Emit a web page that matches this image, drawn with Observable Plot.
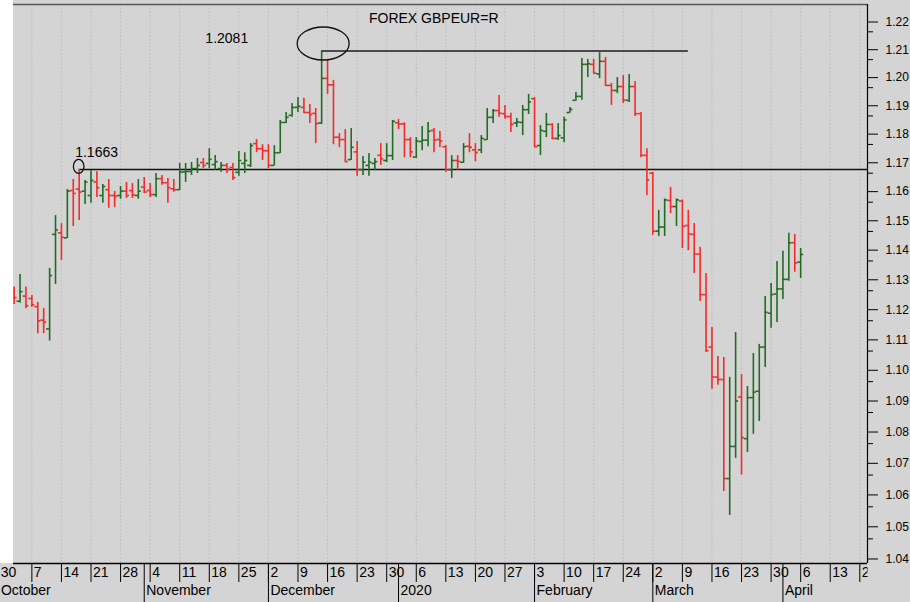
<!DOCTYPE html>
<html>
<head>
<meta charset="utf-8">
<script src="https://cdn.jsdelivr.net/npm/d3@7"></script>
<script src="https://cdn.jsdelivr.net/npm/@observablehq/plot@0.6"></script>
<style>
  html, body { margin: 0; padding: 0; background: #d4d4d4; }
  svg { display: block; }
</style>
</head>
<body>
<div id="chart"></div>
<script>
// ---------------- DATA ----------------
const firstBarDate = "2019-10-02";   // bars run on consecutive weekdays from here
const openPrices = [
  1.1244,1.1215,1.1232,1.1224,1.1197,1.1152,1.1123,1.1440,1.1445,1.1428,
  1.1590,1.1595,1.1588,1.1573,1.1620,1.1573,1.1593,1.1573,1.1573,1.1588,
  1.1590,1.1573,1.1602,1.1590,1.1576,1.1631,1.1617,1.1596,1.1593,1.1654,
  1.1656,1.1666,1.1687,1.1684,1.1680,1.1666,1.1677,1.1670,1.1653,1.1684,
  1.1677,1.1753,1.1735,1.1728,1.1677,1.1721,1.1827,1.1852,1.1880,1.1880,
  1.1862,1.1859,1.1825,1.1983,1.1960,1.1775,1.1767,1.1697,1.1724,1.1662,
  1.1677,1.1684,1.1712,1.1694,1.1711,1.1826,1.1822,1.1767,1.1706,1.1760,
  1.1765,1.1799,1.1767,1.1742,1.1662,1.1694,1.1688,1.1744,1.1731,1.1731,
  1.1767,1.1845,1.1869,1.1858,1.1848,1.1825,1.1827,1.1872,1.1911,1.1746,
  1.1796,1.1820,1.1771,1.1773,1.1862,1.1905,1.1919,1.2033,1.2033,1.1999,
  1.2044,1.1958,1.1940,1.1954,1.1905,1.1954,1.1858,1.1712,1.1650,1.1451,
  1.1465,1.1556,1.1535,1.1554,1.1470,1.1440,1.1373,1.1237,1.1063,1.0965,
  1.0957,1.0639,1.0741,1.0900,1.0766,1.0898,1.0919,1.1063,1.1175,1.1239,
  1.1256,1.1288,1.1412,1.1346
];
const highPrices = [
  1.1262,1.1304,1.1262,1.1234,1.1211,1.1191,1.1325,1.1504,1.1477,1.1594,
  1.1628,1.1663,1.1625,1.1660,1.1655,1.1611,1.1628,1.1587,1.1604,1.1618,
  1.1614,1.1628,1.1635,1.1614,1.1649,1.1642,1.1632,1.1628,1.1684,1.1684,
  1.1687,1.1701,1.1701,1.1735,1.1711,1.1687,1.1684,1.1684,1.1725,1.1721,
  1.1753,1.1767,1.1749,1.1749,1.1746,1.1834,1.1862,1.1894,1.1915,1.1912,
  1.1890,1.1876,1.2081,1.2047,1.1976,1.1788,1.1802,1.1806,1.1760,1.1708,
  1.1718,1.1701,1.1753,1.1753,1.1834,1.1838,1.1826,1.1774,1.1774,1.1813,
  1.1827,1.1806,1.1795,1.1746,1.1711,1.1711,1.1753,1.1788,1.1753,1.1781,
  1.1876,1.1873,1.1922,1.1887,1.1859,1.1841,1.1887,1.1926,1.1915,1.1816,
  1.1859,1.1823,1.1823,1.1845,1.1880,1.1933,1.2054,1.2051,1.2051,1.2075,
  1.2058,1.1965,1.1986,1.1993,1.1997,1.1972,1.1862,1.1735,1.1653,1.1522,
  1.1561,1.1601,1.1561,1.1558,1.1522,1.1477,1.1396,1.1308,1.1128,1.1032,
  1.1029,1.0964,1.1111,1.0973,1.0934,1.1042,1.1072,1.1231,1.1274,1.1348,
  1.1383,1.1444,1.1440,1.1392
];
const lowPrices = [
  1.1204,1.1208,1.1190,1.1195,1.1107,1.1107,1.1083,1.1271,1.1352,1.1426,
  1.1467,1.1487,1.1542,1.1546,1.1566,1.1546,1.1529,1.1532,1.1560,1.1563,
  1.1563,1.1560,1.1580,1.1566,1.1566,1.1608,1.1546,1.1584,1.1590,1.1618,
  1.1642,1.1649,1.1666,1.1666,1.1660,1.1653,1.1649,1.1625,1.1639,1.1649,
  1.1670,1.1721,1.1694,1.1666,1.1675,1.1718,1.1823,1.1845,1.1862,1.1859,
  1.1823,1.1753,1.1820,1.1926,1.1749,1.1739,1.1687,1.1694,1.1639,1.1642,
  1.1639,1.1660,1.1677,1.1687,1.1694,1.1802,1.1704,1.1704,1.1701,1.1728,
  1.1742,1.1721,1.1739,1.1653,1.1632,1.1660,1.1684,1.1721,1.1690,1.1718,
  1.1764,1.1823,1.1845,1.1838,1.1792,1.1809,1.1781,1.1855,1.1739,1.1711,
  1.1774,1.1767,1.1764,1.1756,1.1859,1.1902,1.1905,1.1986,1.1998,1.1982,
  1.1954,1.1887,1.1929,1.1894,1.1897,1.1848,1.1704,1.1573,1.1437,1.1433,
  1.1433,1.1511,1.1467,1.1392,1.1385,1.1308,1.1214,1.1046,1.0925,1.0938,
  1.0598,1.0523,1.0703,1.0650,1.0722,1.0780,1.0821,1.0996,1.1125,1.1144,
  1.1221,1.1282,1.1312,1.1291
];
const closePrices = [
  1.1227,1.1247,1.1200,1.1203,1.1150,1.1146,1.1301,1.1455,1.1430,1.1588,
  1.1580,1.1585,1.1619,1.1625,1.1600,1.1604,1.1573,1.1570,1.1588,1.1573,
  1.1575,1.1588,1.1585,1.1576,1.1631,1.1617,1.1600,1.1593,1.1654,1.1656,
  1.1666,1.1677,1.1677,1.1698,1.1690,1.1677,1.1663,1.1635,1.1694,1.1694,
  1.1746,1.1735,1.1728,1.1677,1.1721,1.1827,1.1845,1.1880,1.1884,1.1862,
  1.1855,1.1823,1.1983,1.1960,1.1775,1.1767,1.1690,1.1740,1.1662,1.1688,
  1.1688,1.1690,1.1700,1.1711,1.1831,1.1822,1.1767,1.1724,1.1762,1.1765,
  1.1796,1.1765,1.1762,1.1662,1.1694,1.1691,1.1742,1.1740,1.1722,1.1771,
  1.1845,1.1869,1.1860,1.1848,1.1820,1.1829,1.1872,1.1899,1.1742,1.1799,
  1.1820,1.1771,1.1781,1.1836,1.1873,1.1919,1.2033,1.2035,1.2002,1.2044,
  1.1958,1.1940,1.1954,1.1906,1.1954,1.1858,1.1712,1.1627,1.1451,1.1465,
  1.1558,1.1535,1.1558,1.1467,1.1442,1.1374,1.1237,1.1051,1.0965,1.0957,
  1.0639,1.0741,1.0887,1.0769,1.0898,1.0916,1.1063,1.1178,1.1237,1.1256,
  1.1288,1.1411,1.1343,1.1372
];

const chartTitle = "FOREX GBPEUR=R";
const peakValue = 1.2081, peakLabel = "1.2081", peakDate = "2019-12-13", peakLineEndDate = "2020-03-10";
const supportValue = 1.1663, supportLabel = "1.1663", supportDate = "2019-10-17";
const titleDate = "2019-12-25", titleLevel = 1.2198;
const peakLabelDate = "2019-11-15", peakLabelLevel = 1.2127;
const supportLabelLevel = 1.1722;

const yTicks = [1.04,1.05,1.06,1.07,1.08,1.09,1.10,1.11,1.12,1.13,1.14,1.15,1.16,1.17,1.18,1.19,1.20,1.21,1.22];
const yMinorTicks = [1.045,1.055,1.065,1.075,1.085,1.095,1.105,1.115,1.125,1.135,1.145,1.155,1.165,1.175,1.185,1.195,1.205,1.215];
const monthLabels = ["October","November","December","2020","February","March","April"];
const monthStartDates = ["2019-10-01","2019-11-01","2019-12-02","2020-01-01","2020-02-03","2020-03-02","2020-04-01"];
const weekAxisStart = "2019-09-30", weekAxisEnd = "2020-04-20";

// ---------------- HELPERS ----------------
const parse = s => new Date(s + "T00:00:00Z");
const origin = parse(weekAxisStart); // a Monday
function tradingIndex(date) {
  const days = Math.round((date - origin) / 864e5);
  return Math.floor(days / 7) * 5 + Math.min(((days % 7) + 7) % 7, 5);
}
const bars = [];
{
  let d = parse(firstBarDate);
  for (let k = 0; k < openPrices.length; k++) {
    while (d.getUTCDay() === 0 || d.getUTCDay() === 6) d = new Date(+d + 864e5);
    bars.push({date: d, i: tradingIndex(d), open: openPrices[k], high: highPrices[k], low: lowPrices[k], close: closePrices[k],
               dir: closePrices[k] > openPrices[k] ? "up" : "down"});
    d = new Date(+d + 864e5);
  }
}
const mondays = d3.utcMonday.range(parse(weekAxisStart), new Date(+parse(weekAxisEnd) + 864e5))
  .map(d => ({i: tradingIndex(d), label: String(d.getUTCDate())}));
const firstWeek = mondays[0];
const weekTicks = mondays.slice(1);
const months = monthStartDates.map((s, k) => ({i: tradingIndex(parse(s)), label: monthLabels[k]}));
const firstMonth = months[0];
const monthTicks = months.slice(1);

// ---------------- LAYOUT ----------------
const W = 910, H = 602;
const mTop = 4, mBottom = 39, mLeft = 13, mRight = 43;
const xDomain = [1.894, 146.3];
const yDomain = [1.03737, 1.22491];
const green = "#236b23", red = "#f52a2a";
const dayRowDy = 13.5, monthRowDy = 31.5;

function ellipseMark(xIdx, yVal, rx, ry, offX, offY) {
  return (index, scales) => {
    const el = document.createElementNS("http://www.w3.org/2000/svg", "ellipse");
    el.setAttribute("cx", scales.x(xIdx) + offX);
    el.setAttribute("cy", scales.y(yVal) + offY);
    el.setAttribute("rx", rx);
    el.setAttribute("ry", ry);
    el.setAttribute("fill", "none");
    el.setAttribute("stroke", "#111");
    el.setAttribute("stroke-width", 1.3);
    return el;
  };
}

const peakIdx = tradingIndex(parse(peakDate));
const peakEndIdx = tradingIndex(parse(peakLineEndDate));
const supportIdx = tradingIndex(parse(supportDate));

const chart = Plot.plot({
  width: W, height: H,
  marginTop: mTop, marginBottom: mBottom, marginLeft: mLeft, marginRight: mRight,
  x: {type: "linear", domain: xDomain},
  y: {type: "log", domain: yDomain},
  color: {domain: ["up", "down"], range: [green, red]},
  style: {background: "#d4d4d4", fontFamily: "'Liberation Sans', Arial, sans-serif", color: "black", overflow: "hidden"},
  marks: [
    // weekly dotted grid
    Plot.ruleX(weekTicks, {x: "i", stroke: "#bababa", strokeDasharray: "1.5,2"}),
    // annotation lines
    Plot.ruleY([{y: peakValue, x1: peakIdx, x2: peakEndIdx}], {y: "y", x1: "x1", x2: "x2", stroke: "#4a4a4a", strokeWidth: 2}),
    Plot.ruleY([{y: supportValue, x1: supportIdx, x2: xDomain[1]}], {y: "y", x1: "x1", x2: "x2", stroke: "#111", strokeWidth: 1.6}),
    // OHLC bars
    Plot.ruleX(bars, {x: "i", y1: "low", y2: "high", stroke: "dir", strokeWidth: 1.6, clip: true}),
    Plot.ruleY(bars, {y: "open", x1: d => d.i - 0.5, x2: "i", stroke: "dir", strokeWidth: 1.6, clip: true}),
    Plot.ruleY(bars, {y: "close", x1: "i", x2: d => d.i + 0.5, stroke: "dir", strokeWidth: 1.6, clip: true}),
    // frame lines
    Plot.ruleY([yDomain[1]], {stroke: "#555", strokeWidth: 1.5}),
    Plot.ruleY([yDomain[0]], {stroke: "#000", strokeWidth: 1.5}),
    Plot.ruleX([xDomain[1]], {stroke: "#000", strokeWidth: 1.2}),
    // annotation ellipses
    ellipseMark(peakIdx, peakValue, 26, 16.5, 2, -7),
    ellipseMark(supportIdx, supportValue, 5.3, 7, 0, -2.5),
    // annotation texts
    Plot.text([{x: tradingIndex(parse(titleDate)), y: titleLevel, t: chartTitle}], {x: "x", y: "y", text: "t", textAnchor: "start", fontSize: 14}),
    Plot.text([{x: tradingIndex(parse(peakLabelDate)), y: peakLabelLevel, t: peakLabel}], {x: "x", y: "y", text: "t", textAnchor: "start", dx: 2, fontSize: 14}),
    Plot.text([{x: supportIdx, y: supportLabelLevel, t: supportLabel}], {x: "x", y: "y", text: "t", textAnchor: "start", dx: -4, fontSize: 14}),
    // right y axis
    Plot.axisY({anchor: "right", ticks: yTicks, tickSize: 10, tickPadding: 8, tickFormat: d3.format(".2f"), fontSize: 12, dy: 4, label: null}),
    Plot.axisY({anchor: "right", ticks: yMinorTicks, tickSize: 5, tickFormat: () => "", label: null}),
    // bottom x axis (two rows)
    Plot.axisX({anchor: "bottom", ticks: weekTicks.map(d => d.i), tickSize: 19, tickFormat: () => "", label: null}),
    Plot.axisX({anchor: "bottom", ticks: monthTicks.map(d => d.i), tickSize: 39, tickFormat: () => "", label: null}),
    Plot.text(weekTicks, {x: "i", text: "label", frameAnchor: "bottom", textAnchor: "start", dx: 2, dy: dayRowDy, fontSize: 14}),
    Plot.text([firstWeek], {x: "i", text: "label", frameAnchor: "bottom", textAnchor: "start", dx: -1.5, dy: dayRowDy, fontSize: 14}),
    Plot.text(monthTicks, {x: "i", text: "label", frameAnchor: "bottom", textAnchor: "start", dx: 2, dy: monthRowDy, fontSize: 14}),
    Plot.text([firstMonth], {x: "i", text: "label", frameAnchor: "bottom", textAnchor: "start", dx: -7.3, dy: monthRowDy, fontSize: 14})
  ]
});

document.getElementById("chart").appendChild(chart);

// post-styling: white strip left of the plot; x-axis rows end at the y-axis line
const svg = d3.select(chart);
svg.insert("rect", ":first-child")
  .attr("x", 0).attr("y", 0).attr("width", mLeft).attr("height", H - mBottom).attr("fill", "#ffffff");
svg.append("rect")
  .attr("x", W - mRight + 0.6).attr("y", H - mBottom + 1).attr("width", mRight).attr("height", mBottom)
  .attr("fill", "#d4d4d4");
</script>
</body>
</html>
